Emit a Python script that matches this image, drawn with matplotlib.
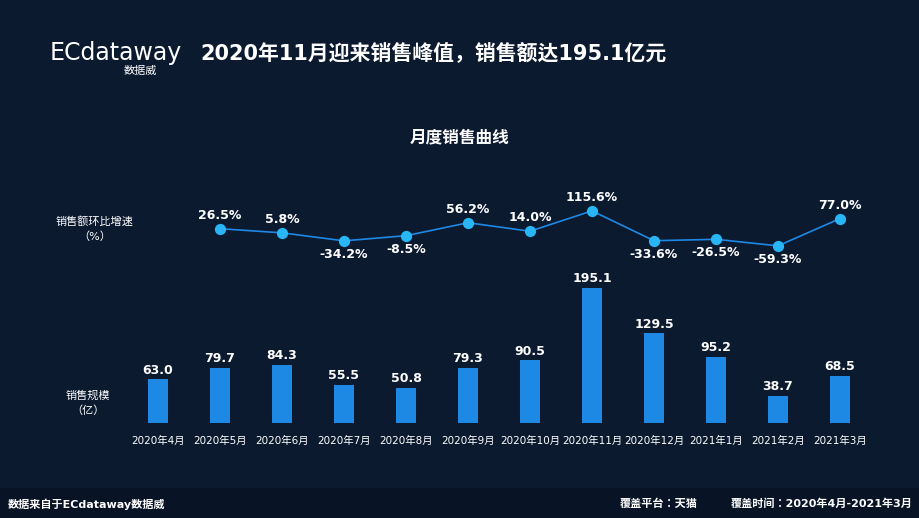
import matplotlib
matplotlib.use("Agg")
import matplotlib.pyplot as plt
from matplotlib import font_manager as fm
from matplotlib.patches import Rectangle

names = {f.name for f in fm.fontManager.ttflist}
cjk = [n for n in ["Noto Sans CJK SC", "Noto Sans CJK JP", "Noto Sans CJK TC",
                   "Noto Sans CJK KR", "Noto Sans SC"] if n in names]
if not cjk:
    cjk = sorted(n for n in names if "CJK" in n)
plt.rcParams['font.family'] = ['DejaVu Sans'] + cjk

months = ["2020年4月","2020年5月","2020年6月","2020年7月","2020年8月","2020年9月",
          "2020年10月","2020年11月","2020年12月","2021年1月","2021年2月","2021年3月"]
sales = [63.0, 79.7, 84.3, 55.5, 50.8, 79.3, 90.5, 195.1, 129.5, 95.2, 38.7, 68.5]
growth = [26.5, 5.8, -34.2, -8.5, 56.2, 14.0, 115.6, -33.6, -26.5, -59.3, 77.0]

W, H = 920, 518
fig = plt.figure(figsize=(W/100, H/100), dpi=100)
fig.patch.set_facecolor('#0c1a2f')

def fx(px): return px / W
def fy(py): return 1 - py / H

x0, x1 = 127, 871
axb = fig.add_axes([fx(x0), fy(423), fx(x1 - x0), (423 - 250) / H])
axb.set_facecolor('none')
xs = list(range(len(months)))
axb.bar(xs, sales, width=0.33, color='#1e88e5')
axb.set_xlim(-0.5, len(months) - 0.5)
axb.set_ylim(0, 195.1 * 173 / 135)
for x, v in zip(xs, sales):
    axb.text(x, v + 4, f"{v:.1f}", ha='center', va='bottom', color='white',
             fontsize=9, fontweight='bold')
axb.set_xticks(xs)
axb.set_xticklabels(months, color='white', fontsize=7.5)
axb.tick_params(axis='x', length=0, pad=9)
axb.set_yticks([])
for s in axb.spines.values():
    s.set_visible(False)

axl = fig.add_axes([fx(x0), fy(254), fx(x1 - x0), 50 / H])
axl.set_facecolor('none')
lx = xs[1:]
axl.plot(lx, growth, color='#1e88e5', lw=1.2)
axl.scatter(lx, growth, s=50, color='#29b6f6', zorder=3)
axl.set_xlim(-0.5, len(months) - 0.5)
axl.set_ylim(-100, 150)
axl.axis('off')
for x, v in zip(lx, growth):
    if v >= 0:
        axl.annotate(f"{v:.1f}%", (x, v), xytext=(0, 5), textcoords='offset points',
                     ha='center', va='bottom', color='white', fontsize=9, fontweight='bold')
    else:
        axl.annotate(f"{v:.1f}%", (x, v), xytext=(0, -5), textcoords='offset points',
                     ha='center', va='top', color='white', fontsize=9, fontweight='bold')

fig.text(fx(50), fy(53), "ECdataway", color='white', fontsize=17, va='center', ha='left')
fig.text(fx(140), fy(71), "数据威", color='white', fontsize=8, va='center', ha='center')
fig.text(fx(200), fy(54), "2020年11月迎来销售峰值，销售额达195.1亿元", color='white',
         fontsize=15, fontweight='bold', va='center', ha='left')
fig.text(fx(460), fy(137), "月度销售曲线", color='white', fontsize=12, fontweight='bold',
         va='center', ha='center')
fig.text(fx(95), fy(222), "销售额环比增速", color='white', fontsize=8, va='center', ha='center')
fig.text(fx(95), fy(237), "（%）", color='white', fontsize=8, va='center', ha='center')
fig.text(fx(88), fy(396), "销售规模", color='white', fontsize=8, va='center', ha='center')
fig.text(fx(88), fy(411), "（亿）", color='white', fontsize=8, va='center', ha='center')
fig.add_artist(Rectangle((0, 0), 1, fy(488), transform=fig.transFigure,
                         color='#081426', zorder=-1))
fig.text(fx(8), fy(504), "数据来自于ECdataway数据威", color='white', fontsize=8,
         fontweight='bold', va='center', ha='left')
fig.text(fx(620), fy(504), "覆盖平台：天猫", color='white', fontsize=8,
         fontweight='bold', va='center', ha='left')
fig.text(fx(913), fy(504), "覆盖时间：2020年4月-2021年3月", color='white', fontsize=8,
         fontweight='bold', va='center', ha='right')

fig.savefig("out.png", dpi=100, facecolor=fig.get_facecolor())
